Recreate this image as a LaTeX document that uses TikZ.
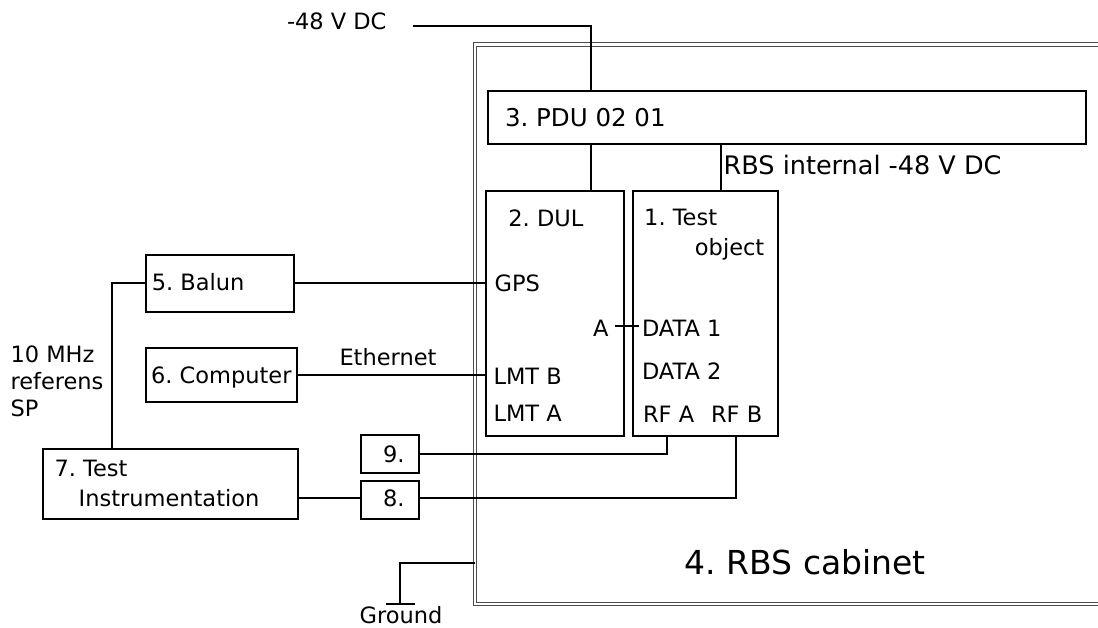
\documentclass[tikz,border=0pt]{standalone}
\usepackage{fontspec}
\setmainfont{DejaVu Sans}
\frenchspacing
\tikzset{
  box/.style={draw=black, line width=2pt, outer sep=0pt, inner sep=0pt, anchor=north west},
  wire/.style={draw=black, line width=2pt},
  cab/.style={draw=black!70, line width=1pt, double=white, double distance=2.8pt},
  lbl/.style={inner sep=0pt, outer sep=0pt, font=\fontsize{22.5}{26.6}\selectfont},
  lblbig/.style={inner sep=0pt, outer sep=0pt, font=\fontsize{24.5}{29}\selectfont},
}
\begin{document}
\begin{tikzpicture}[x=1pt,y=-1pt]
\useasboundingbox (0,0) rectangle (1098,628);
% cabinet
\draw[cab] (1100,44.7) -- (475,44.7) -- (475,604) -- (1100,604);
% boxes
\node[box, minimum width=597.7pt, minimum height=52.7pt] (pdu) at (488.3,91) {};
\node[box, minimum width=138.3pt, minimum height=244.7pt] (dul) at (485.7,191) {};
\node[box, minimum width=145pt, minimum height=244.7pt] (tobj) at (632.7,191) {};
\node[box, minimum width=148.3pt, minimum height=56.7pt] (balun) at (145.7,255) {};
\node[box, minimum width=151pt, minimum height=54.3pt] (comp) at (145.7,347.7) {};
\node[box, minimum width=254.4pt, minimum height=69.7pt] (instr) at (43.3,449.3) {};
\node[box, minimum width=58.3pt, minimum height=38.3pt] (b9) at (361,435) {};
\node[box, minimum width=58.3pt, minimum height=37.7pt] (b8) at (361,481) {};
% labels
\node[lbl, anchor=base west] (dc) at (287,29.4) {-48 V DC};
\node[lblbig, anchor=base west] (pdut) at (505,126.4) {3. PDU 02 01};
\node[inner sep=0pt, font=\fontsize{25.5}{30}\selectfont, anchor=base west] (rbsi) at (723.5,174.3) {RBS internal -48 V DC};
\node[lbl, anchor=base west] (dult) at (508.4,226.9) {2. DUL};
\node[lbl, anchor=base west] (tobt1) at (644.2,225.2) {1. Test};
\node[lbl, anchor=base east] (tobt2) at (764.3,256) {object};
\node[lbl, anchor=base west] (gps) at (494.6,291.5) {GPS};
\node[lbl, anchor=base east] (aL) at (608.5,337) {A};
\node[lbl, anchor=base west] (d1) at (642,337) {DATA 1};
\node[lbl, anchor=base west] (d2) at (642,379) {DATA 2};
\node[lbl, anchor=base west] (lmtb) at (493.5,384.4) {LMT B};
\node[lbl, anchor=base west] (lmta) at (493.5,421.4) {LMT A};
\node[lbl, anchor=base west] (rfa) at (643.1,422.7) {RF A};
\node[lbl, anchor=base west] (rfb) at (711.1,422.7) {RF B};
\node[lbl, anchor=base west] (balt) at (151.8,290.5) {5. Balun};
\node[lbl, anchor=base west] (compt) at (151.1,383.5) {6. Computer};
\node[lbl, anchor=base west] (eth) at (339.5,365.4) {Ethernet};
\node[lbl, anchor=base west, align=left] (mhz) at (10.5,416) {10 MHz\\referens\\SP};
\node[lbl, anchor=base west] (inst1) at (54.5,476.9) {7. Test};
\node[lbl, anchor=base west] (inst2) at (78.7,506.9) {Instrumentation};
\node[lbl, anchor=base] (n9) at (393.9,462.4) {9.};
\node[lbl, anchor=base] (n8) at (393.9,506.5) {8.};
\node[inner sep=0pt, font=\fontsize{33}{40}\selectfont, anchor=base west] (cabt) at (684.5,574.5) {4. RBS cabinet};
\node[lbl, anchor=base] (gnd) at (401,623) {Ground};
% connectors
\coordinate (feed) at (412.7,25.7);
\coordinate (p0) at ([xshift=102.2pt]pdu.north west);
\draw[wire] (feed) -| (p0);
\coordinate (p1) at ([xshift=104.8pt]dul.north west);
\draw[wire] (p1) -- (p1 |- pdu.south);
\coordinate (p2) at ([xshift=88pt]tobj.north west);
\draw[wire] (p2) -- (p2 |- pdu.south);
\draw[wire] (balun.east) -- (balun.east -| dul.west);
\draw[wire] (comp.east) -- (comp.east -| dul.west);
\coordinate (ap) at (615,326.5);
\coordinate (dp) at (639,326.5);
\draw[wire] (ap) -- (dp);
\draw[wire] (balun.west) -| ([xshift=69pt]instr.north west);
\coordinate (e8) at ([yshift=2pt]b8.west);
\draw[wire] (e8) -- (e8 -| instr.east);
\draw[wire] (b9.east) -| ([xshift=34pt]tobj.south west);
\draw[wire] ([yshift=2pt]b8.east) -| ([xshift=103.3pt]tobj.south west);
\coordinate (g0) at (475,562.7);
\coordinate (g1) at (400.3,604.3);
\draw[wire] (g0) -| (g1);
\draw[wire] ([xshift=-14.8pt]g1) -- ([xshift=14.2pt]g1);
\end{tikzpicture}
\end{document}
